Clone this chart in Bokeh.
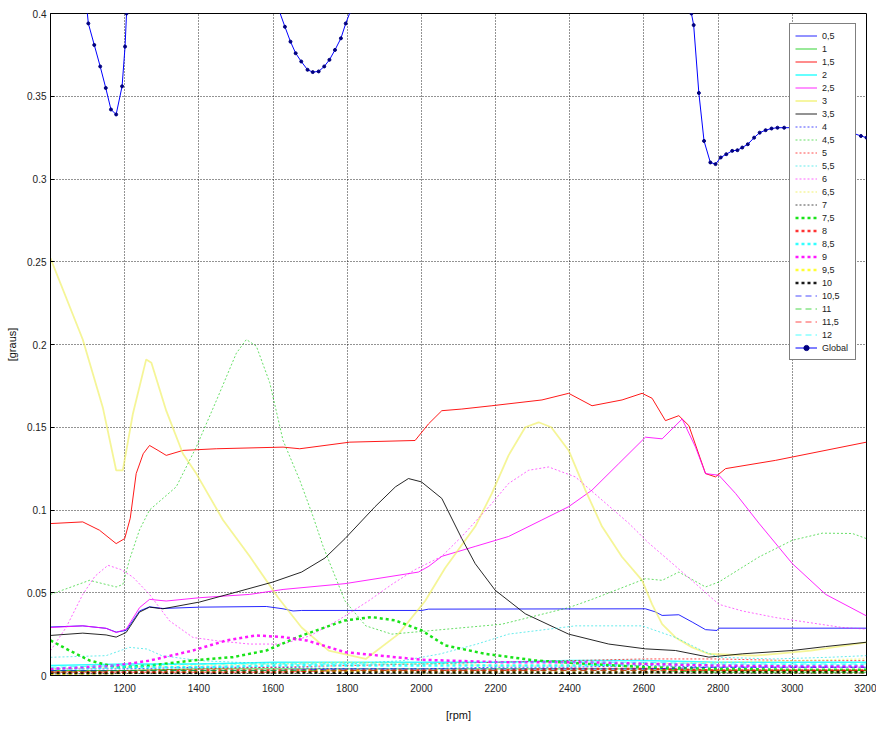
from bokeh.plotting import figure
from bokeh.models import Range1d, FixedTicker
from bokeh.embed import file_html
from bokeh.resources import INLINE

# ---- axis ticks -------------------------------------------------------------
x_ticks = [1200, 1400, 1600, 1800, 2000, 2200, 2400, 2600, 2800, 3000, 3200]
y_ticks = [0, 0.05, 0.1, 0.15, 0.2, 0.25, 0.3, 0.35, 0.4]
y_tick_labels = ["0", "0.05", "0.1", "0.15", "0.2", "0.25", "0.3", "0.35", "0.4"]

# common rpm points used by the low-amplitude orders
rpm_base = [1000, 1200, 1400, 1600, 1800, 2000, 2200, 2400, 2600, 2800, 3000, 3200]

# ---- order 0,5 ---------------------------------------------------------------
rpm_05 = [1000, 1087, 1150, 1177, 1204, 1240, 1267, 1303, 1402, 1582, 1627, 1654, 1677,
          2001, 2019, 2604, 2630, 2649, 2694, 2730, 2766, 2797, 2802, 3200]
val_05 = [0.0293, 0.0300, 0.0285, 0.0262, 0.0272, 0.0390, 0.0415, 0.0405, 0.0413, 0.0417,
          0.0403, 0.0390, 0.0393, 0.0393, 0.0401, 0.0403, 0.0385, 0.0363, 0.0367, 0.0323,
          0.0277, 0.0272, 0.0286, 0.0286]

# ---- order 1 -----------------------------------------------------------------
val_1 = [0.003, 0.003, 0.004, 0.004, 0.004, 0.004, 0.004, 0.004, 0.004, 0.003, 0.003, 0.003]

# ---- order 1,5 ---------------------------------------------------------------
rpm_15 = [1000, 1087, 1132, 1177, 1200, 1215, 1231, 1250, 1267, 1290, 1312, 1357, 1447,
          1627, 1672, 1807, 1983, 2019, 2055, 2109, 2190, 2325, 2397, 2460, 2541, 2595,
          2622, 2658, 2694, 2721, 2766, 2793, 2820, 2955, 3200]
val_15 = [0.0918, 0.0928, 0.0878, 0.0797, 0.0827, 0.0950, 0.1220, 0.1340, 0.1390, 0.1360,
          0.1330, 0.1360, 0.1370, 0.1380, 0.1370, 0.1410, 0.1420, 0.1520, 0.1600, 0.1610,
          0.1630, 0.1665, 0.1705, 0.1630, 0.1665, 0.1705, 0.1675, 0.1540, 0.1570, 0.1510,
          0.1220, 0.1200, 0.1250, 0.1300, 0.1410]

# ---- order 2 -----------------------------------------------------------------
val_2 = [0.006, 0.007, 0.007, 0.008, 0.008, 0.008, 0.008, 0.009, 0.009, 0.008, 0.008, 0.008]

# ---- order 2,5 ---------------------------------------------------------------
rpm_25 = [1000, 1087, 1150, 1177, 1204, 1240, 1267, 1312, 1402, 1537, 1627, 1794, 1992,
          2020, 2055, 2145, 2235, 2325, 2397, 2460, 2532, 2604, 2649, 2676, 2703, 2739,
          2766, 2802, 2847, 2910, 3000, 3090, 3200]
val_25 = [0.0290, 0.0300, 0.0285, 0.0260, 0.0280, 0.0410, 0.0460, 0.0450, 0.0470, 0.0490,
          0.0520, 0.0555, 0.0625, 0.0660, 0.0720, 0.0780, 0.0840, 0.0940, 0.1020, 0.1120,
          0.1280, 0.1440, 0.1430, 0.1490, 0.1550, 0.1380, 0.1220, 0.1210, 0.1100, 0.0920,
          0.0676, 0.0490, 0.0360]

# ---- order 3 -----------------------------------------------------------------
rpm_3 = [1000, 1087, 1141, 1177, 1195, 1222, 1258, 1272, 1312, 1357, 1393, 1465, 1537,
         1614, 1677, 1750, 1850, 1938, 2010, 2064, 2145, 2190, 2235, 2280, 2316, 2350,
         2397, 2442, 2487, 2541, 2595, 2622, 2649, 2685, 2730, 2775, 2900, 3050, 3200]
val_3 = [0.2520, 0.2030, 0.1620, 0.1240, 0.1240, 0.1580, 0.1910, 0.1890, 0.1600, 0.1340,
         0.1220, 0.0940, 0.0720, 0.0470, 0.0290, 0.0150, 0.0100, 0.0250, 0.0450, 0.0650,
         0.0900, 0.1100, 0.1330, 0.1500, 0.1530, 0.1500, 0.1360, 0.1120, 0.0900, 0.0716,
         0.0575, 0.0430, 0.0310, 0.0230, 0.0170, 0.0130, 0.0120, 0.0150, 0.0200]

# ---- order 3,5 ---------------------------------------------------------------
rpm_35 = [1000, 1087, 1150, 1177, 1204, 1240, 1267, 1303, 1402, 1501, 1600, 1677, 1740,
          1794, 1875, 1930, 1965, 2000, 2055, 2109, 2145, 2199, 2280, 2397, 2505, 2604,
          2685, 2775, 2865, 3000, 3090, 3200]
val_35 = [0.0242, 0.0256, 0.0245, 0.0232, 0.0260, 0.0383, 0.0413, 0.0403, 0.0444, 0.0504,
          0.0565, 0.0625, 0.0710, 0.0827, 0.1020, 0.1140, 0.1190, 0.1170, 0.1070, 0.0827,
          0.0676, 0.0515, 0.0373, 0.0250, 0.0190, 0.0161, 0.0151, 0.0111, 0.0131, 0.0151,
          0.0175, 0.0201]

# ---- order 4 -----------------------------------------------------------------
val_4 = [0.004, 0.004, 0.005, 0.005, 0.004, 0.004, 0.005, 0.005, 0.006, 0.005, 0.005, 0.005]

# ---- order 4,5 ---------------------------------------------------------------
rpm_45 = [1000, 1050, 1105, 1150, 1177, 1195, 1213, 1240, 1267, 1339, 1393, 1447, 1501,
          1528, 1555, 1591, 1627, 1672, 1708, 1735, 1794, 1850, 1920, 2019, 2217, 2397,
          2460, 2604, 2649, 2694, 2766, 2802, 2910, 3000, 3081, 3162, 3200]
val_45 = [0.0490, 0.0530, 0.0575, 0.0550, 0.0535, 0.0550, 0.0700, 0.0880, 0.1000, 0.1140,
          0.1380, 0.1660, 0.1947, 0.2030, 0.1990, 0.1770, 0.1420, 0.1180, 0.0960, 0.0780,
          0.0450, 0.0300, 0.0250, 0.0270, 0.0310, 0.0410, 0.0460, 0.0585, 0.0575, 0.0625,
          0.0535, 0.0565, 0.0716, 0.0817, 0.0860, 0.0858, 0.0827]

# ---- order 5 -----------------------------------------------------------------
val_5 = [0.002, 0.003, 0.004, 0.005, 0.006, 0.007, 0.008, 0.009, 0.010, 0.010, 0.009, 0.009]

# ---- order 5,5 ---------------------------------------------------------------
rpm_55 = [1000, 1150, 1213, 1260, 1300, 1400, 1500, 1650, 1800, 1950, 2050, 2150, 2235,
          2415, 2595, 2685, 2757, 2802, 2950, 3100, 3200]
val_55 = [0.011, 0.012, 0.017, 0.016, 0.012, 0.009, 0.008, 0.007, 0.007, 0.009, 0.013,
          0.019, 0.025, 0.030, 0.030, 0.023, 0.015, 0.011, 0.010, 0.011, 0.012]

# ---- order 6 -----------------------------------------------------------------
rpm_6 = [1000, 1042, 1087, 1120, 1155, 1190, 1222, 1267, 1321, 1384, 1447, 1537, 1626,
         1700, 1780, 1857, 1920, 1983, 2055, 2109, 2190, 2235, 2289, 2343, 2415, 2487,
         2559, 2613, 2667, 2739, 2802, 2865, 2955, 3045, 3135, 3200]
val_6 = [0.0150, 0.0290, 0.0490, 0.0600, 0.0666, 0.0640, 0.0595, 0.0490, 0.0330, 0.0230,
         0.0210, 0.0190, 0.0190, 0.0240, 0.0340, 0.0450, 0.0550, 0.0640, 0.0720, 0.0840,
         0.1040, 0.1160, 0.1240, 0.1260, 0.1200, 0.1060, 0.0920, 0.0800, 0.0696, 0.0555,
         0.0430, 0.0390, 0.0350, 0.0320, 0.0290, 0.0280]

# ---- orders 6,5 to 12 --------------------------------------------------------
val_65 = [0.004, 0.005, 0.006, 0.007, 0.008, 0.007, 0.006, 0.006, 0.007, 0.008, 0.009, 0.010]
val_7 = [0.0010, 0.0012, 0.0011, 0.0013, 0.0012, 0.0014, 0.0013, 0.0012, 0.0015, 0.0014,
         0.0013, 0.0015]

rpm_75 = [1000, 1051, 1105, 1177, 1267, 1384, 1492, 1582, 1672, 1794, 1866, 1929, 2001,
          2064, 2172, 2307, 2442, 2604, 2800, 3000, 3200]
val_75 = [0.0212, 0.0151, 0.0091, 0.0050, 0.0060, 0.0091, 0.0111, 0.0151, 0.0237, 0.0333,
          0.0353, 0.0333, 0.0272, 0.0182, 0.0131, 0.0091, 0.0071, 0.0050, 0.0040, 0.0035,
          0.0035]

val_8 = [0.002, 0.002, 0.003, 0.003, 0.003, 0.003, 0.003, 0.004, 0.004, 0.003, 0.003, 0.003]
val_85 = [0.004, 0.005, 0.005, 0.006, 0.006, 0.006, 0.006, 0.006, 0.007, 0.006, 0.006, 0.006]

rpm_9 = [1000, 1177, 1267, 1384, 1474, 1555, 1627, 1690, 1794, 1884, 2001, 2217, 2442,
         2604, 2800, 3000, 3200]
val_9 = [0.0040, 0.0060, 0.0090, 0.0151, 0.0212, 0.0242, 0.0232, 0.0212, 0.0141, 0.0121,
         0.0095, 0.0080, 0.0080, 0.0071, 0.0060, 0.0055, 0.0055]

val_95 = [0.0010, 0.0015, 0.0020, 0.0020, 0.0025, 0.0020, 0.0020, 0.0018, 0.0020, 0.0022,
          0.0020, 0.0020]
val_10 = [0.0015, 0.0016, 0.0017, 0.0018, 0.0017, 0.0019, 0.0018, 0.0017, 0.0019, 0.0020,
          0.0019, 0.0020]
val_105 = [0.003, 0.003, 0.003, 0.003, 0.004, 0.004, 0.004, 0.004, 0.004, 0.005, 0.005, 0.005]
val_11 = [0.002, 0.003, 0.003, 0.003, 0.003, 0.003, 0.003, 0.003, 0.003, 0.002, 0.002, 0.002]
val_115 = [0.002, 0.002, 0.002, 0.002, 0.003, 0.003, 0.003, 0.003, 0.003, 0.003, 0.003, 0.003]
val_12 = [0.005, 0.006, 0.007, 0.007, 0.007, 0.007, 0.008, 0.008, 0.008, 0.007, 0.007, 0.007]

# ---- global level (runs above the axis top in several places) ---------------
rpm_global = [1000, 1080, 1095, 1102, 1118, 1134, 1149, 1163, 1177, 1193, 1201, 1205, 1212,
              1600, 1616, 1632, 1647, 1661, 1676, 1693, 1707, 1723, 1738, 1752, 1767, 1783,
              1796, 1808, 1825, 2710, 2728, 2734, 2748, 2762, 2779, 2793, 2807, 2822, 2838,
              2852, 2865, 2880, 2897, 2912, 2928, 2944, 2960, 2978, 2996, 3015, 3040, 3070,
              3100, 3130, 3160, 3185, 3200]
val_global = [0.470, 0.440, 0.410, 0.394, 0.381, 0.368, 0.355, 0.342, 0.339, 0.356, 0.380,
              0.400, 0.460, 0.440, 0.402, 0.392, 0.383, 0.376, 0.371, 0.366, 0.3646, 0.365,
              0.368, 0.372, 0.378, 0.385, 0.394, 0.401, 0.430, 0.430, 0.400, 0.393, 0.352,
              0.323, 0.310, 0.309, 0.313, 0.315, 0.317, 0.3174, 0.319, 0.321, 0.325, 0.328,
              0.3295, 0.3305, 0.331, 0.331, 0.331, 0.332, 0.332, 0.331, 0.330, 0.329, 0.328,
              0.326, 0.325]

# (label, rpm, values, colour, dash, width, alpha)
series = [
    ("0,5", rpm_05, val_05, "#0000ff", "solid", 1, 0.85),
    ("1", rpm_base, val_1, "#00c800", "solid", 1, 0.8),
    ("1,5", rpm_15, val_15, "#ff0000", "solid", 1, 0.9),
    ("2", rpm_base, val_2, "#00ffff", "solid", 1.5, 0.8),
    ("2,5", rpm_25, val_25, "#ff00ff", "solid", 1, 0.85),
    ("3", rpm_3, val_3, "#f0f060", "solid", 1.8, 0.65),
    ("3,5", rpm_35, val_35, "#000000", "solid", 1, 0.85),
    ("4", rpm_base, val_4, "#0000ff", "2 2", 1, 0.7),
    ("4,5", rpm_45, val_45, "#00c800", "2 2", 1, 0.6),
    ("5", rpm_base, val_5, "#ff0000", "2 2", 1, 0.7),
    ("5,5", rpm_55, val_55, "#00e0e0", "2 2", 1, 0.6),
    ("6", rpm_6, val_6, "#ff00ff", "2 2", 1, 0.6),
    ("6,5", rpm_base, val_65, "#f0f060", "2 2", 1.5, 0.6),
    ("7", rpm_base, val_7, "#000000", "2 2", 1, 0.7),
    ("7,5", rpm_75, val_75, "#00e000", "3 3", 2.5, 0.9),
    ("8", rpm_base, val_8, "#ff0000", "3 3", 2.5, 0.8),
    ("8,5", rpm_base, val_85, "#00ffff", "3 3", 2.5, 0.8),
    ("9", rpm_9, val_9, "#ff00ff", "3 3", 2.5, 0.9),
    ("9,5", rpm_base, val_95, "#ffff00", "3 3", 2.5, 0.8),
    ("10", rpm_base, val_10, "#000000", "3 3", 2.5, 0.9),
    ("10,5", rpm_base, val_105, "#0000ff", "6 4", 1, 0.7),
    ("11", rpm_base, val_11, "#00c800", "6 4", 1, 0.7),
    ("11,5", rpm_base, val_115, "#ff0000", "6 4", 1, 0.7),
    ("12", rpm_base, val_12, "#00ffff", "6 4", 1, 0.7),
]

FONT = "Liberation Sans"

p = figure(width=876, height=730,
           x_range=Range1d(1000, 3200), y_range=Range1d(0, 0.4),
           output_backend="svg", toolbar_location=None,
           min_border_left=50, min_border_right=10,
           min_border_top=13, min_border_bottom=55)

for label, xs, ys, color, dash, width, alpha in series:
    p.line(xs, ys, line_color=color, line_dash=dash, line_width=width,
           line_alpha=alpha, legend_label=label)

p.line(rpm_global, val_global, line_color="#0000ff", line_width=1, legend_label="Global")
p.scatter(rpm_global, val_global, size=3, marker="circle",
          fill_color="#000080", line_color="#000080", legend_label="Global")

# axes
p.xaxis.ticker = FixedTicker(ticks=x_ticks)
p.yaxis.ticker = FixedTicker(ticks=y_ticks)
p.yaxis.major_label_overrides = {t: s for t, s in zip(y_ticks, y_tick_labels)}
for ax in (p.xaxis[0], p.yaxis[0]):
    ax.major_tick_in = 4
    ax.major_tick_out = 0
    ax.minor_tick_in = 0
    ax.minor_tick_out = 0
    ax.axis_line_color = "black"
    ax.major_tick_line_color = "black"
    ax.major_label_text_font = FONT
    ax.major_label_text_font_size = "10px"
    ax.major_label_text_color = "#222222"
    ax.axis_label_text_font = FONT
    ax.axis_label_text_font_size = "11px"
    ax.axis_label_text_font_style = "normal"
    ax.axis_label_text_color = "#111111"

p.xaxis.axis_label = "[rpm]"
p.yaxis.axis_label = "[graus]"
p.xaxis.major_label_standoff = 8
p.xaxis.axis_label_standoff = 14
p.yaxis.major_label_standoff = 4
p.yaxis.axis_label_standoff = 6

# dotted grid
for g in (p.xgrid[0], p.ygrid[0]):
    g.grid_line_color = "#000000"
    g.grid_line_dash = "1 2"
    g.grid_line_alpha = 0.85
p.outline_line_color = "black"
p.background_fill_color = "white"
p.border_fill_color = "white"

# legend
lg = p.legend[0]
lg.location = (739, 315)
lg.padding = 5
lg.spacing = 0
lg.margin = 0
lg.label_height = 13
lg.glyph_height = 13
lg.glyph_width = 22
lg.label_standoff = 5
lg.label_width = 28
lg.label_text_font = FONT
lg.label_text_font_size = "9px"
lg.label_text_color = "#222222"
lg.border_line_color = "black"
lg.border_line_width = 1
lg.background_fill_color = "white"
lg.background_fill_alpha = 1.0

open("out.html", "w").write(file_html(p, INLINE))
